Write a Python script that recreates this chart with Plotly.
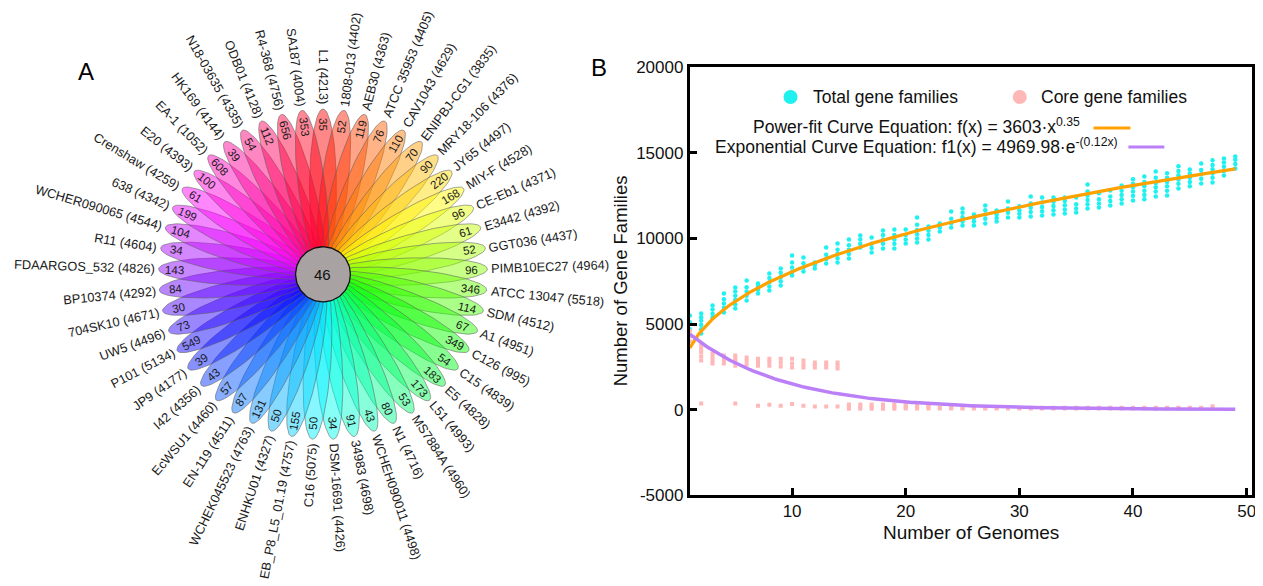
import colorsys
import numpy as np
import plotly.graph_objects as go

# ---------------- Panel A data (flower plot) ----------------
genome_names = [
    "L1", "1808-013", "AEB30", "ATCC 35953", "CAV1043", "ENIPBJ-CG1", "MRY18-106",
    "JY65", "MIY-F", "CE-Eb1", "E3442", "GGT036", "PIMB10EC27", "ATCC 13047",
    "SDM", "A1", "C126", "C15", "E5", "L51", "MS7884A", "N1", "WCHEH090011",
    "34983", "DSM-16691", "C16", "EB_P8_L5_01.19", "ENHKU01", "WCHEK045523",
    "EN-119", "EcWSU1", "I42", "JP9", "P101", "UW5", "704SK10", "BP10374",
    "FDAARGOS_532", "R11", "WCHER090065", "638", "Crenshaw", "E20", "EA-1",
    "HK169", "N18-03635", "ODB01", "R4-368", "SA187",
]
genome_gene_counts = [
    4213, 4402, 4363, 4405, 4629, 3835, 4376, 4497, 4528, 4371, 4392, 4437, 4964,
    5518, 4512, 4951, 995, 4839, 4828, 4993, 4960, 4716, 4498, 4698, 4426, 5075,
    4757, 4327, 4763, 4511, 4460, 4356, 4177, 5134, 4496, 4671, 4292, 4826, 4604,
    4544, 4342, 4259, 4393, 1052, 4144, 4335, 4128, 4756, 4004,
]
unique_gene_counts = [
    35, 52, 119, 76, 110, 70, 90, 220, 168, 96, 61, 52, 96, 346, 114, 67, 349,
    54, 183, 173, 53, 80, 43, 91, 34, 50, 155, 50, 131, 87, 57, 43, 39, 549, 73,
    30, 84, 143, 34, 104, 199, 61, 100, 608, 39, 54, 112, 656, 353,
]
core_gene_count = 46

# ---------------- Panel B data (pan / core genome) ----------------
genome_numbers = list(range(1, 50))
total_families = [
    [4300, 4700, 5100, 5500],
    [4450, 4700, 4950, 5200, 5400, 5620],
    [5380, 5600, 5850, 6080],
    [5680, 5950, 6200, 6450, 6790],
    [5910, 6150, 6400, 6650, 6900, 7140],
    [6380, 6650, 6900, 7150, 7550],
    [6790, 7000, 7200, 7370],
    [6960, 7200, 7450, 7700, 7960],
    [7250, 7500, 7750, 8000, 8250],
    [7840, 8050, 8300, 8600, 9010],
    [8070, 8300, 8550, 8890],
    [8250, 8450, 8600],
    [8540, 8800, 9050, 9480],
    [8600, 8850, 9100, 9350, 9710],
    [8830, 9100, 9350, 9600, 9950],
    [9480, 9700, 9950, 10180],
    [9190, 9450, 9700, 10060],
    [9420, 9700, 9950, 10200, 10470],
    [9420, 9700, 9950, 10200, 10530],
    [9710, 9950, 10200, 10530],
    [9770, 10000, 10250, 10500, 10800, 11230],
    [9950, 10200, 10450, 10710],
    [10410, 10650, 10880],
    [10650, 10900, 11150, 11580],
    [10760, 11000, 11250, 11500, 11760],
    [10760, 11000, 11200, 11410],
    [10880, 11150, 11400, 11650, 11930],
    [11000, 11200, 11400, 11640],
    [11230, 11500, 11750, 12170],
    [11230, 11450, 11650, 11880],
    [11290, 11550, 11800, 12050, 12460],
    [11350, 11600, 11850, 12100, 12400],
    [11410, 11650, 11900, 12150, 12400],
    [11470, 11700, 11950, 12200, 12400],
    [11520, 11750, 12000, 12400],
    [11760, 12000, 12250, 12500, 12750, 13160],
    [11820, 12050, 12300, 12640],
    [11930, 12200, 12450, 12810],
    [12050, 12300, 12550, 12800, 13100],
    [12230, 12500, 12750, 13000, 13200, 13460],
    [12290, 12550, 12800, 13050, 13300, 13630],
    [12460, 12750, 13000, 13250, 13550, 13920],
    [12520, 12800, 13050, 13300, 13550, 13810],
    [12930, 13200, 13450, 13700, 13950, 14220],
    [13050, 13300, 13550, 13800, 14040],
    [13220, 13500, 13750, 14000, 14390],
    [13280, 13550, 13800, 14050, 14300, 14570],
    [13690, 13950, 14200, 14450, 14680],
    [14100, 14350, 14600, 14800],
]
core_families = [
    [3700, 4000, 4300, 4600],
    [2870, 3100, 3350, 3550, 3740, 350],
    [2690, 2900, 3100, 3280],
    [2690, 2900, 3160],
    [2570, 2800, 3000, 3160, 350],
    [2630, 2850, 3040],
    [2570, 2780, 2980, 230],
    [2570, 2780, 2980, 290],
    [2520, 2750, 2980, 230],
    [2460, 2700, 2980, 330],
    [2460, 2650, 2870, 230],
    [2460, 2600, 2750, 180],
    [2460, 2600, 2750, 180],
    [2400, 2580, 2750, 180],
    [50, 170, 300],
    [50, 170, 300],
    [50, 170, 300],
    [50, 170, 300],
    [50, 170, 300],
    [60, 170, 260],
    [60, 170, 260],
    [60, 170, 260],
    [70, 110], [70, 110], [70, 110], [70, 110], [70, 110], [70, 110], [70, 110],
    [70, 110], [70, 110], [70, 110], [70, 110], [70, 110], [70, 110], [70, 110],
    [70, 110], [70, 110], [70, 110], [70, 110], [70, 110], [70, 110], [70, 110],
    [70, 110], [70, 110], [70, 110],
    [46, 200],
]
POWER_A, POWER_B = 3603, 0.35          # f(x) = 3603 * x^0.35
EXP_A, EXP_B = 4969.98, 0.12           # f1(x) = 4969.98 * e^-(0.12x)
x_tick_values = [10, 20, 30, 40, 50]
y_tick_values = [-5000, 0, 5000, 10000, 15000, 20000]

# ---------------- page geometry ----------------
PAGE_W, PAGE_H = 1263, 586
OFF = 8                                  # default body margin of the html page
W, H = PAGE_W - OFF, PAGE_H              # figure size
# observed vertical mapping of the screenshot: shown_y = VS * page_y + VB
VS, VB = 0.966, 9.4
CX, CY = 324, 274                        # flower centre (shown px from top-left)
R_IN, R_TIP, HALF_W = 6, 165, 13.5
R_NUM, R_LABEL = 149, 169
CENTER_R = 27.5
FONT = "Arial, Liberation Sans, Helvetica, sans-serif"

B_LEFT, B_RIGHT, B_TOP, B_BOTTOM = 692, 1256, 67.5, 494.5
X_RANGE = [1, 1 + (B_RIGHT - B_LEFT) / 11.40]


def px(x):
    return (x - OFF) / W


def py(y):
    page_y = (y - VB) / VS
    return 1 - (page_y - OFF) / H


EM = {c: 0.556 for c in "0123456789_"}
EM.update({"(": .333, ")": .333, " ": .278, "-": .333, ".": .278})
EM.update(dict(zip("ABCDEFGHIJKLMNOPQRSTUVWXYZ",
                   [.667, .667, .722, .722, .667, .611, .778, .722, .278, .5, .667, .556, .833,
                    .722, .778, .667, .778, .722, .667, .611, .722, .667, .944, .667, .667, .611])))
EM.update(dict(zip("abcdefghijklmnopqrstuvwxyz",
                   [.556, .556, .5, .556, .556, .278, .556, .556, .222, .222, .5, .222, .833,
                    .556, .556, .556, .556, .333, .5, .278, .556, .5, .722, .5, .5, .5])))


def text_width(s, size):
    return sum(EM.get(c, 0.556) for c in s) * size


fig = go.Figure()
annotations = []
shapes = []

LABEL_SIZE, NUM_SIZE = 12.8, 11.5
n = len(genome_names)
step = 360.0 / n
t = np.linspace(0, 2 * np.pi, 80)
for i in range(n):
    theta = 90 - i * step
    th = np.radians(theta)
    c = (R_IN + R_TIP) / 2
    a = (R_TIP - R_IN) / 2
    u = c + a * np.cos(t)
    v = HALF_W * np.sin(t)
    xs = u * np.cos(th) - v * np.sin(th)
    ys = u * np.sin(th) + v * np.cos(th)
    r, g, b = colorsys.hls_to_rgb(i / n, 0.5, 1.0)
    fig.add_trace(go.Scatter(
        x=xs, y=ys, xaxis="x2", yaxis="y2", mode="lines", fill="toself",
        fillcolor=f"rgba({int(r*255)},{int(g*255)},{int(b*255)},0.47)",
        line=dict(color="rgba(95,95,95,0.7)", width=0.8),
        hoverinfo="skip", showlegend=False))

    tnorm = ((theta + 180) % 360) - 180
    if -90 <= tnorm < 90:
        angle = -tnorm
    else:
        angle = ((180 - tnorm + 180) % 360) - 180
    annotations.append(dict(
        x=R_NUM * np.cos(th), y=R_NUM * np.sin(th), xref="x2", yref="y2",
        text=str(unique_gene_counts[i]), showarrow=False, textangle=angle,
        xanchor="center", yanchor="middle",
        font=dict(family=FONT, size=NUM_SIZE, color="#1a1a1a")))
    label = f"{genome_names[i]} ({genome_gene_counts[i]})"
    w = text_width(label, LABEL_SIZE)
    rc = R_LABEL + w / 2
    annotations.append(dict(
        x=rc * np.cos(th), y=rc * np.sin(th), xref="x2", yref="y2",
        text=label, showarrow=False, textangle=angle,
        xanchor="center", yanchor="middle",
        font=dict(family=FONT, size=LABEL_SIZE, color="#1a1a1a")))

ang = np.linspace(0, 2 * np.pi, 100)
fig.add_trace(go.Scatter(
    x=CENTER_R * np.cos(ang), y=CENTER_R * np.sin(ang), xaxis="x2", yaxis="y2",
    mode="lines", fill="toself", fillcolor="#a9a2a2",
    line=dict(color="#111111", width=1.3), hoverinfo="skip", showlegend=False))
annotations.append(dict(x=0, y=0, xref="x2", yref="y2", text=str(core_gene_count),
                        showarrow=False, xanchor="center", yanchor="middle",
                        font=dict(family=FONT, size=15, color="#111")))

# ---------------- Panel B traces ----------------
tx, ty = [], []
for k, vals in zip(genome_numbers, total_families):
    tx += [k] * len(vals)
    ty += vals
cx, cy = [], []
for k, vals in zip(genome_numbers, core_families):
    cx += [k] * len(vals)
    cy += vals

fig.add_trace(go.Scatter(x=tx, y=ty, mode="markers", name="Total gene families",
                         marker=dict(color="#1ff0f0", size=4.5), showlegend=False))
fig.add_trace(go.Scatter(x=cx, y=cy, mode="markers", name="Core gene families",
                         marker=dict(color="#ffb8b8", size=4, symbol="square"),
                         showlegend=False))
xf = np.linspace(1, 49, 200)
fig.add_trace(go.Scatter(x=xf, y=POWER_A * xf ** POWER_B, mode="lines",
                         line=dict(color="#ffa200", width=3.2), showlegend=False))
fig.add_trace(go.Scatter(x=xf, y=EXP_A * np.exp(-EXP_B * xf), mode="lines",
                         line=dict(color="#bb7ff7", width=3.5), showlegend=False))

# legend (drawn)
leg_font = dict(family=FONT, size=17.5, color="#111")
for cxp, col, txt, tx0 in [(793, "#1ff0f0", "Total gene families", 814),
                           (1023, "#ffb8b8", "Core gene families", 1042)]:
    shapes.append(dict(type="circle", xref="paper", yref="paper", xsizemode="pixel",
                       ysizemode="pixel", xanchor=px(cxp), yanchor=py(97),
                       x0=-7, x1=7, y0=-7, y1=7, fillcolor=col, line=dict(width=0)))
    annotations.append(dict(x=px(tx0), y=py(97), xref="paper", yref="paper",
                            text=txt, showarrow=False, xanchor="left", yanchor="middle",
                            font=leg_font))
annotations.append(dict(x=px(1085), y=py(126), xref="paper", yref="paper",
                        text="Power-fit Curve Equation: f(x) = 3603·x<sup>0.35</sup>",
                        showarrow=False, xanchor="right", yanchor="middle", font=leg_font))
annotations.append(dict(x=px(1124), y=py(146), xref="paper", yref="paper",
                        text="Exponential Curve Equation: f1(x) = 4969.98·e<sup>-(0.12x)</sup>",
                        showarrow=False, xanchor="right", yanchor="middle", font=leg_font))
shapes.append(dict(type="line", xref="paper", yref="paper", x0=px(1097), x1=px(1134),
                   y0=py(128), y1=py(128), line=dict(color="#ffa200", width=3)))
shapes.append(dict(type="line", xref="paper", yref="paper", x0=px(1132), x1=px(1168),
                   y0=py(147), y1=py(147), line=dict(color="#bb7ff7", width=3)))

# axis titles and panel letters
annotations.append(dict(x=px((B_LEFT + B_RIGHT) / 2), y=py(532), xref="paper", yref="paper",
                        text="Number of Genomes", showarrow=False, xanchor="center",
                        yanchor="middle", font=dict(family=FONT, size=19, color="#111")))
annotations.append(dict(x=px(622), y=py((B_TOP + B_BOTTOM) / 2), xref="paper", yref="paper",
                        text="Number of Gene Families", showarrow=False, textangle=-90,
                        xanchor="center", yanchor="middle",
                        font=dict(family=FONT, size=18.5, color="#111")))
annotations.append(dict(x=px(86), y=py(72), xref="paper", yref="paper", text="A",
                        showarrow=False, xanchor="center", yanchor="middle",
                        font=dict(family=FONT, size=24, color="#000")))
annotations.append(dict(x=px(601), y=py(68), xref="paper", yref="paper", text="B",
                        showarrow=False, xanchor="center", yanchor="middle",
                        font=dict(family=FONT, size=24, color="#000")))

axis_common = dict(showgrid=False, zeroline=False, showline=True, linecolor="#000",
                   linewidth=3, mirror=True, ticks="inside", ticklen=7, tickwidth=3,
                   tickcolor="#000", tickfont=dict(family=FONT, size=17, color="#111"))

# flower axes: one unit = one shown pixel
A_LEFT, A_RIGHT = OFF, OFF + 0.5 * W
A_TOP, A_BOTTOM = VS * OFF + VB, VS * (OFF + H) + VB
fig.update_layout(
    width=W, height=H, margin=dict(l=0, r=0, t=0, b=0),
    paper_bgcolor="white", plot_bgcolor="white",
    xaxis=dict(domain=[px(B_LEFT), px(B_RIGHT)], range=X_RANGE,
               tickvals=x_tick_values, ticktext=[str(v) for v in x_tick_values],
               ticklabelstandoff=-2, **axis_common),
    yaxis=dict(domain=[py(B_BOTTOM), py(B_TOP)], range=[-5000, 20000],
               tickvals=y_tick_values, ticktext=[str(v) for v in y_tick_values],
               **axis_common),
    xaxis2=dict(domain=[0, 0.5], range=[A_LEFT - CX, A_RIGHT - CX], visible=False),
    yaxis2=dict(domain=[0, 1], range=[CY - A_BOTTOM, CY - A_TOP], visible=False),
    annotations=annotations, shapes=shapes, showlegend=False,
)

fig.write_html("out.html")
